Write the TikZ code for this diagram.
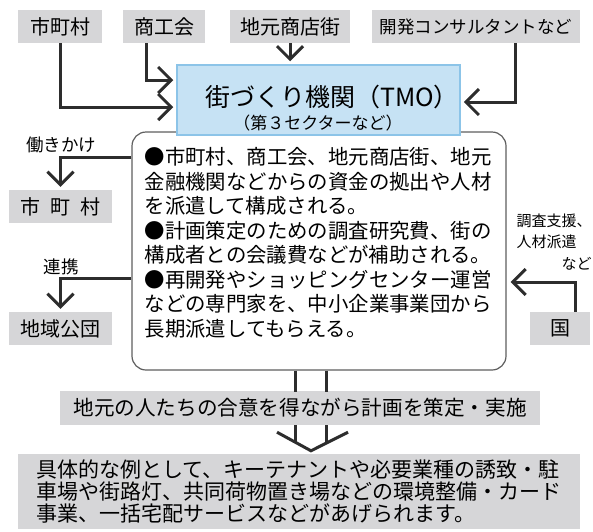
\documentclass[tikz,border=0pt]{standalone}
\usepackage{fontspec}
\setmainfont{Noto Sans CJK JP}
\usepackage{xcolor}
\usepackage{tikz}
\usetikzlibrary{arrows.meta,positioning}
\definecolor{boxGray}{RGB}{214,214,216}
\definecolor{tmoBlue}{RGB}{198,226,244}
\definecolor{tmoEdge}{RGB}{140,196,232}
\definecolor{lineDark}{RGB}{45,45,45}
\definecolor{infoEdge}{RGB}{95,95,95}
\tikzset{
	grayBox/.style={fill=boxGray, inner sep=0pt, minimum height=33pt, font=\fontsize{20}{24}\selectfont},
	tmoBox/.style={fill=tmoBlue, draw=tmoEdge, line width=1.5pt, minimum width=283pt, minimum height=70pt},
	infoBox/.style={draw=infoEdge, line width=1.2pt, rounded corners=14pt, fill=white, minimum width=374pt, minimum height=238pt},
	barbTip/.tip={Straight Barb[length=13pt 0 0, width=26pt 0 0, line width=3pt]},
	conArrow/.style={line width=3pt, draw=lineDark, -barbTip, shorten >=3pt},
	conLine/.style={line width=3pt, draw=lineDark},
	sideLabel/.style={inner sep=0pt, font=\fontsize{17.5}{20}\selectfont}
}

\begin{document}
\begin{tikzpicture}[x=1pt,y=-1pt]
		\useasboundingbox (0,0) rectangle (593,531);
		\node[grayBox, minimum width=84pt] (tCity) at (60,26.5) {市町村};						% oben links
		\node[grayBox, minimum width=82pt] (tChamber) at (164,26.5) {商工会};
		\node[grayBox, minimum width=120pt] (tShops) at (290,26.5) {地元商店街};
		\node[grayBox, minimum width=208pt, font=\fontsize{17.5}{20}\selectfont] (tConsult) at (476,26.5) {開発コンサルタントなど};
		\node[infoBox] (info) at (319,251) {};												% Rahmen mit Text
		\node[tmoBox] (tmo) at (318.5,100) {};												% blauer Kasten
		\node[font=\fontsize{25}{28}\selectfont] (tmoName) at (332,97) {街づくり機関（TMO）};
		\node[font=\fontsize{17}{20}\selectfont] (tmoSub) at (318,123) {（第３セクターなど）};
		\node[align=left, inner sep=0pt, font=\fontsize{20.4}{24.5}\selectfont] (infoText) at (318,243) {●市町村、商工会、地元商店街、地元\\金融機関などからの資金の拠出や人材\\を派遣して構成される。\\●計画策定のための調査研究費、街の\\構成者との会議費などが補助される。\\●再開発やショッピングセンター運営\\などの専門家を、中小企業事業団から\\長期派遣してもらえる。};
		\node[sideLabel] (lblWork) at (61,145) {働きかけ};									% Beschriftung links
		\node[sideLabel] (lblLink) at (61,267) {連携};
		\node[inner sep=0pt, align=left, font=\fontsize{15}{21.5}\selectfont] (lblSupport) at (554,242) {調査支援、\\人材派遣\\\hspace*{3em}など};
		\node[grayBox, minimum width=103pt] (lCity) at (60.5,206.5) {市\hspace{10pt}町\hspace{10pt}村};
		\node[grayBox, minimum width=103pt] (lKodan) at (60.5,328.5) {地域公団};
		\node[grayBox, minimum width=60pt] (rKuni) at (560,328.5) {国};
		\node[grayBox, minimum width=480pt, minimum height=34pt, font=\fontsize{20.6}{22}\selectfont] (plan) at (300,408) {地元の人たちの合意を得ながら計画を策定・実施};
		\node[grayBox, minimum width=562pt, minimum height=75pt, align=left, font=\fontsize{21}{22}\selectfont] (result) at (299,491.5) {具体的な例として、キーテナントや必要業種の誘致・駐\\車場や街路灯、共同荷物置き場などの環境整備・カード\\事業、一括宅配サービスなどがあげられます。};
		
		% Pfeile oben
		\draw[conArrow] (tCity.south) |- ([yshift=-7pt]tmo.west);
		\draw[conArrow] ([xshift=-18pt]tChamber.south) |- ([yshift=20pt]tmo.west);
		\draw[conArrow] (tShops.south) -- (tmo.north -| tShops.south);
		\draw[conArrow] ([xshift=39pt]tConsult.south) |- ([yshift=-2pt]tmo.east);
		
		% Pfeile seitlich
		\draw[conArrow] ([yshift=94pt]info.west) -| (lCity.north);
		\draw[conArrow] ([yshift=-27pt]info.west) -| (lKodan.north);
		\draw[conArrow, shorten >=4pt] ([xshift=15pt]rKuni.north) |- ([yshift=-31pt]info.east);
		
		% Doppelpfeil nach unten
		\draw[conLine] ([xshift=-24pt]info.south) -- ++(0,21);
		\draw[conLine] ([xshift=7pt]info.south) -- ++(0,21);
		\draw[conLine] ([xshift=-5pt]plan.south) -- ++(0,17);
		\draw[conLine] ([xshift=26pt]plan.south) -- ++(0,18);
		\draw[conLine] ([xshift=-23pt,yshift=-7pt]plan.south) -- ([xshift=12pt,yshift=3pt]result.north) -- ([xshift=48pt,yshift=-7pt]plan.south);
\end{tikzpicture}
\end{document}
